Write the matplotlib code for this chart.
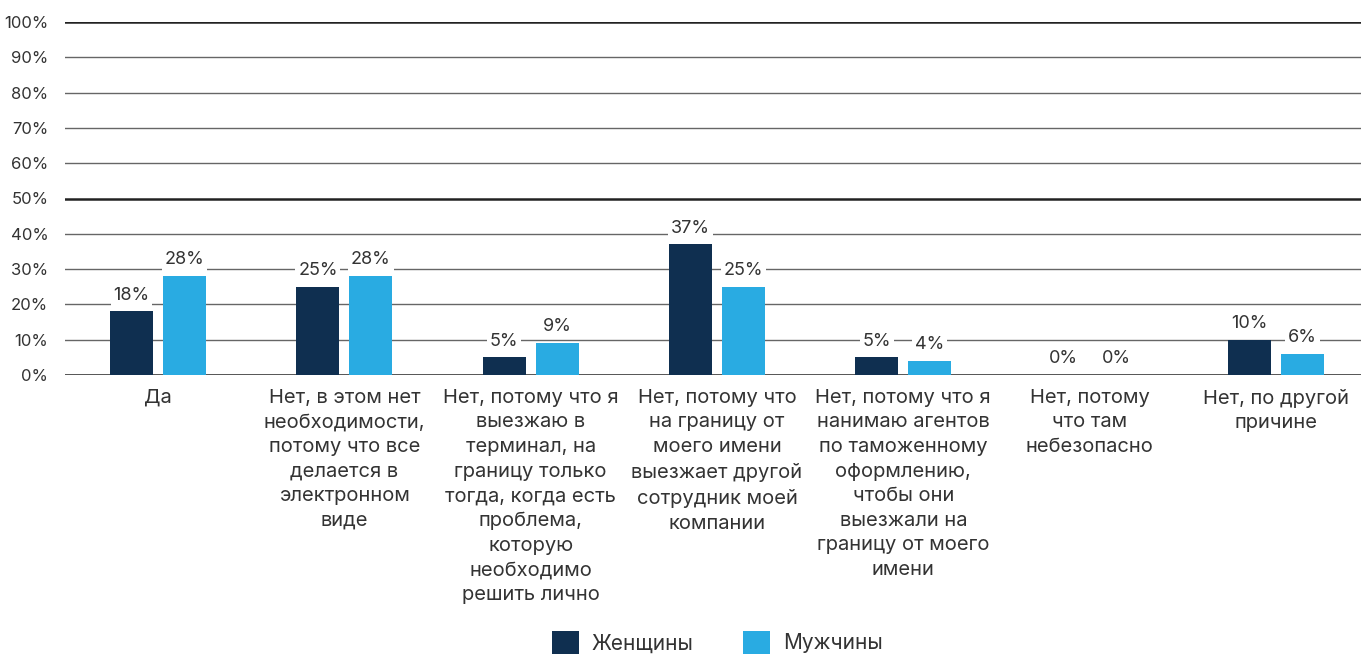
import matplotlib.pyplot as plt
import numpy as np
from matplotlib.patches import Patch

plt.rcParams['font.family'] = ['Inter', 'DejaVu Sans']

categories = ['Да',
              'Нет, в этом нет\nнеобходимости,\nпотому что все\nделается в\nэлектронном\nвиде',
              'Нет, потому что я\nвыезжаю в\nтерминал, на\nграницу только\nтогда, когда есть\nпроблема,\nкоторую\nнеобходимо\nрешить лично',
              'Нет, потому что\nна границу от\nмоего имени\nвыезжает другой\nсотрудник моей\nкомпании',
              'Нет, потому что я\nнанимаю агентов\nпо таможенному\nоформлению,\nчтобы они\nвыезжали на\nграницу от моего\nимени',
              'Нет, потому\nчто там\nнебезопасно',
              'Нет, по другой\nпричине']
women = [18, 25, 5, 37, 5, 0, 10]
men = [28, 28, 9, 25, 4, 0, 6]
series_names = ['Женщины', 'Мужчины']
colors = ['#0f2f50', '#29abe2']

fig = plt.figure(figsize=(13.61, 6.56), dpi=100)
# plot area runs slightly past the right edge of the image, as in the original
ax = fig.add_axes([65 / 1361, 1 - 375 / 656, (1369 - 65) / 1361, (375 - 22) / 656])

x = np.arange(len(categories))
w = 0.231
gap = 0.027
b1 = ax.bar(x - w / 2 - gap, women, w, color=colors[0], zorder=3)
b2 = ax.bar(x + w / 2 + gap, men, w, color=colors[1], zorder=3)

for bars, vals in [(b1, women), (b2, men)]:
    for rect, v in zip(bars, vals):
        ax.text(rect.get_x() + rect.get_width() / 2, v + 2.2, f'{v}%',
                ha='center', va='bottom', fontsize=13, color='#333333', zorder=4,
                bbox=dict(facecolor='white', edgecolor='none', pad=2))

ax.set_xlim(-0.5, len(categories) - 0.5)
ax.set_ylim(0, 100)
ax.set_yticks(range(0, 101, 10))
ax.set_yticklabels([f'{t}%' for t in range(0, 101, 10)], fontsize=12, color='#333333')
for t in range(0, 101, 10):
    if t in (0, 50, 100):
        ax.axhline(t, color='#222222', linewidth=1.8, zorder=1)
    else:
        ax.axhline(t, color='#666666', linewidth=1.0, zorder=1)
ax.set_xticks(x)
ax.set_xticklabels(categories, fontsize=14.5, color='#333333', linespacing=1.47, va='top')
ax.tick_params(axis='both', length=0)
ax.tick_params(axis='x', pad=10)
ax.tick_params(axis='y', pad=12)
for s in ax.spines.values():
    s.set_visible(False)

handles = [Patch(facecolor=c, label=n) for c, n in zip(colors, series_names)]
fig.legend(handles=handles, loc='lower center', bbox_to_anchor=(0.527, -0.025), ncol=2,
           frameon=False, fontsize=15, handlelength=1.3, handleheight=1.3,
           columnspacing=2.4, handletextpad=0.6, labelcolor='#333333')

fig.savefig('out.png', dpi=100)
